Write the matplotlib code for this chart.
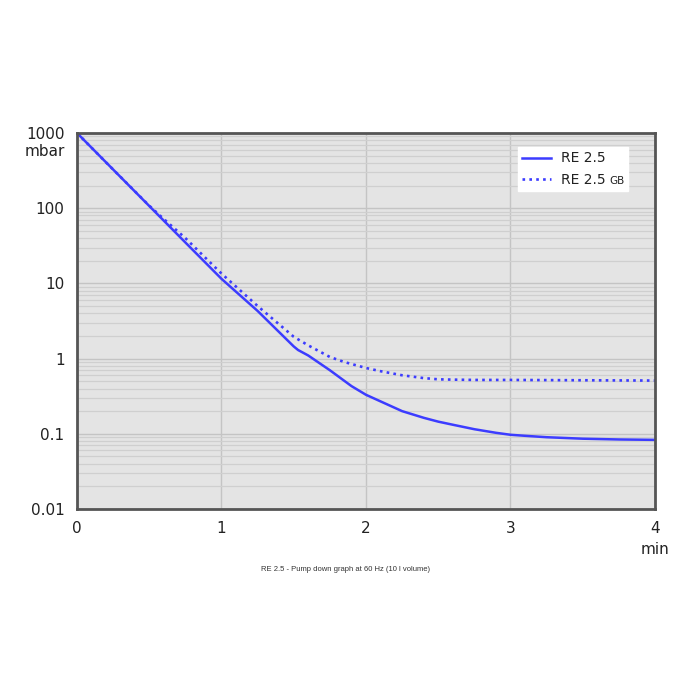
import numpy as np
import matplotlib
matplotlib.use("Agg")
import matplotlib.pyplot as plt
from matplotlib.ticker import FixedLocator, LogLocator, NullFormatter

# ---- data ----
t_solid = [0, 0.25, 0.5, 0.75, 1.0, 1.25, 1.5, 1.53, 1.6, 1.75, 1.9, 2.0, 2.1, 2.25, 2.4, 2.5, 2.6, 2.75, 2.9, 3.0, 3.1, 3.25, 3.5, 3.75, 4.0]
p_solid = [1000, 327, 107, 35, 11.5, 4.3, 1.45, 1.3, 1.1, 0.7, 0.43, 0.33, 0.27, 0.2, 0.163, 0.145, 0.132, 0.115, 0.103, 0.097, 0.094, 0.09, 0.086, 0.084, 0.083]

t_dot = [0, 0.25, 0.5, 0.6, 0.75, 1.0, 1.25, 1.5, 1.6, 1.75, 1.85, 2.0, 2.1, 2.25, 2.4, 2.5, 2.6, 2.75, 3.0, 3.5, 4.0]
p_dot = [1000, 327, 108, 72, 40, 13.5, 5.0, 1.95, 1.5, 1.05, 0.9, 0.75, 0.68, 0.6, 0.55, 0.53, 0.525, 0.52, 0.52, 0.515, 0.51]

x_ticks = [0, 1, 2, 3, 4]
x_labels = ["0", "1", "2", "3", "4"]
y_ticks = [0.01, 0.1, 1, 10, 100, 1000]
y_labels = ["0.01", "0.1", "1", "10", "100", "1000"]
series_labels = ["RE 2.5", "RE 2.5"]
caption = "RE 2.5 - Pump down graph at 60 Hz (10 l volume)"

blue = "#3c3cff"

fig = plt.figure(figsize=(7, 7), dpi=100)
ax = fig.add_axes([0.11, 0.2729, 0.8257, 0.5371])
ax.set_facecolor("#e4e4e4")

# trailing spaces on the first label reserve room for the small "GB" of row 2
ax.plot(t_solid, p_solid, color=blue, lw=1.8, label=series_labels[0] + "\u2007\u2007")
ax.plot(t_dot, p_dot, color=blue, lw=1.9, linestyle=(0, (1, 1.6)),
        label=series_labels[1])

ax.set_yscale("log")
ax.set_xlim(0, 4)
ax.set_ylim(0.01, 1000)
ax.xaxis.set_major_locator(FixedLocator(x_ticks))
ax.set_xticklabels(x_labels)
ax.yaxis.set_major_locator(FixedLocator(y_ticks))
ax.set_yticklabels(y_labels)
ax.yaxis.set_minor_locator(LogLocator(base=10, subs=np.arange(2, 10), numticks=50))
ax.yaxis.set_minor_formatter(NullFormatter())

ax.grid(True, which="major", axis="both", color="#c4c4c4", lw=1.0)
ax.grid(True, which="minor", axis="y", color="#cfcfcf", lw=0.9)
ax.set_axisbelow(True)

ax.tick_params(which="both", length=0, labelsize=11, colors="#222222", pad=9)

for s in ax.spines.values():
    s.set_color("#555555")
    s.set_linewidth(2.0)

ax.text(-0.02, 0.95, "mbar", transform=ax.transAxes, ha="right", va="center",
        fontsize=11, color="#222222")
ax.text(1.0, -0.107, "min", transform=ax.transAxes, ha="center", va="center",
        fontsize=11, color="#222222")

leg = ax.legend(loc="upper right", bbox_to_anchor=(0.953, 0.962), borderaxespad=0,
                frameon=True, fancybox=False, framealpha=1, edgecolor="white",
                facecolor="white", fontsize=10, handlelength=2.1, handletextpad=0.75,
                borderpad=0.3, labelspacing=0.55)
for txt in leg.get_texts():
    txt.set_color("#222222")

fig.canvas.draw()
texts = leg.get_texts()
ax.annotate("GB", xy=(1, 0), xycoords=texts[1], xytext=(2.5, 0.5),
            textcoords="offset points", fontsize=7.5, color="#222222", va="bottom",
            zorder=10)

fig.text(0.493, 0.186, caption, ha="center", va="center", fontsize=5.5,
         color="#333333", family="Liberation Sans")

fig.savefig("out.png", dpi=100)
